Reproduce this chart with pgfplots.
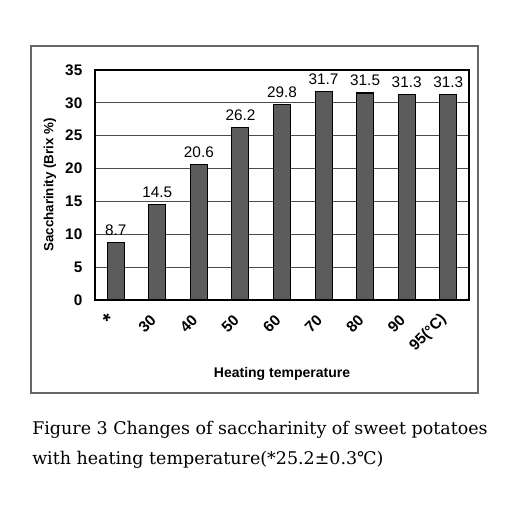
\documentclass[border=0pt]{standalone}
\usepackage{pgfplots}
\pgfplotsset{compat=1.18}
\usepackage{fontspec}
\setmainfont{Liberation Sans}
\newfontfamily\capfont{DejaVu Serif}
\begin{document}
\begin{tikzpicture}
\path[use as bounding box] (0,0) rectangle (399pt,385.5pt);
\draw[gray!80!black, line width=0.9pt] (23.25pt,90.75pt) rectangle (358.5pt,351pt);
\begin{axis}[
  at={(71.25pt,160.5pt)}, anchor=south west,
  scale only axis, width=280.5pt, height=172.5pt,
  xmin=-0.5, xmax=8.5, ymin=0, ymax=35,
  ytick={0,5,...,35},
  xtick={0,...,8},
  xticklabels={{\fontsize{15}{15}\selectfont\raisebox{-0.25em}{*}},30,40,50,60,70,80,90,95(°C)},
  extra x ticks={0.5,1.5,...,7.5},
  extra x tick labels={},
  extra x tick style={major tick length=4pt, tick style={black, line width=0.6pt}},
  major x tick style={draw=none},
  ymajorgrids, grid style={black!70, line width=0.6pt},
  major y tick style={draw=none},
  axis line style={black, line width=0.9pt},
  tick label style={font=\fontsize{11.5}{13}\selectfont\bfseries},
  /pgf/number format/assume math mode=true,
  xticklabel style={xshift=-3pt, yshift=-13pt, rotate=45, anchor=east, inner sep=0pt},
  yticklabel style={xshift=-6pt},
  xlabel={Heating temperature},
  xlabel style={font=\fontsize{10.5}{12}\selectfont\bfseries, at={(axis description cs:0.5,0)}, anchor=north, yshift=-47pt},
  ylabel={Saccharinity (Brix \%)},
  ylabel style={font=\fontsize{10}{12}\selectfont\bfseries},
  nodes near coords,
  every node near coord/.append style={font=\fontsize{11.5}{13}\selectfont, yshift=1.5pt, /pgf/number format/fixed, /pgf/number format/precision=1, /pgf/number format/fixed zerofill, /pgf/number format/assume math mode=true},
]
\addplot[ybar, bar width=12.75pt, fill=black!64, draw=black, line width=0.8pt]
coordinates {(0,8.7) (1,14.5) (2,20.6) (3,26.2) (4,29.8) (5,31.7) (6,31.5) (7,31.3) (8,31.3)};
\end{axis}
\node[anchor=base west, inner sep=0pt, font=\capfont\fontsize{13.1}{16}\selectfont] at (24pt,59.25pt) {Figure 3 Changes of saccharinity of sweet potatoes};
\node[anchor=base west, inner sep=0pt, font=\capfont\fontsize{13.1}{16}\selectfont] at (24pt,36.75pt) {with heating temperature(*25.2±0.3℃)};
\end{tikzpicture}
\end{document}
